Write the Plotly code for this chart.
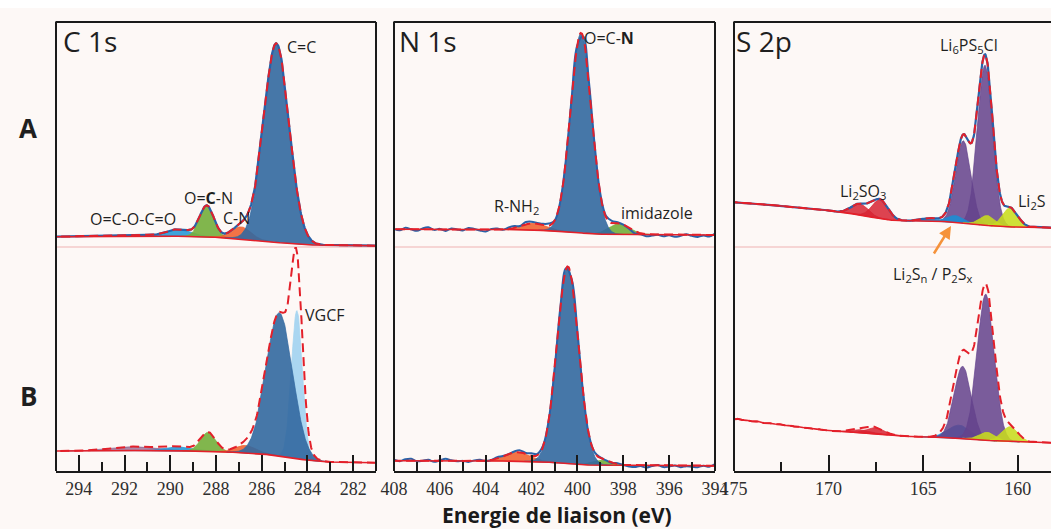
import numpy as np
import plotly.graph_objects as go

W, H = 1051, 529

# ---------------- data ----------------
# Each fitted component: centre (eV), height (a.u.), gaussian sigma (eV)
# C 1s, sample A
C_A_NAMES   = ["satellite", "O=C-O-C=O", "O=C-N", "C-N", "C=C"]
C_A_CENTER  = [291.5, 289.6, 288.4, 286.9, 285.36]
C_A_HEIGHT  = [1.5, 7.0, 31.0, 12.0, 199.0]
C_A_SIGMA   = [1.0, 0.5, 0.31, 0.42, 0.557]
C_A_BG_E    = [295, 292, 290, 289, 288.5, 287.5, 286.8, 286.2, 285.7, 285.3, 284.9, 284.5, 283.7, 282.5, 281]
C_A_BG_I    = [10.3, 10.6, 10.8, 10.6, 10.3, 9.2, 8.0, 6.8, 5.6, 4.5, 3.6, 2.9, 2.0, 1.5, 1.3]

# C 1s, sample B
C_B_NAMES   = ["satellite", "O=C-O-C=O", "O=C-N", "C-N", "VGCF", "C=C"]
C_B_CENTER  = [291.5, 289.6, 288.34, 286.7, 284.46, 285.23]
C_B_HEIGHT  = [4.0, 4.0, 19.0, 7.5, 148.0, 143.0]
C_B_SIGMA   = [1.0, 0.55, 0.33, 0.45, 0.24, 0.58]
C_B_BG_E    = [295, 291, 289, 288, 287, 286, 285.5, 285, 284.5, 284, 283.5, 283, 282, 281]
C_B_BG_I    = [20.0, 20.5, 20.0, 19.5, 18.5, 17.0, 16.0, 14.5, 12.5, 10.8, 9.6, 9.0, 8.5, 8.3]

# N 1s, sample A
N_A_NAMES   = ["R-NH2", "imidazole", "O=C-N"]
N_A_CENTER  = [401.88, 398.16, 399.84]
N_A_HEIGHT  = [7.0, 11.0, 200.0]
N_A_SIGMA   = [0.5, 0.45, 0.46]
N_A_BG_E    = [408, 403, 402, 401, 400.3, 399.8, 399.3, 398.5, 394]
N_A_BG_I    = [17.7, 17.5, 17.0, 16.3, 15.0, 14.0, 13.0, 12.5, 12.0]
N_A_NOISE   = [0.5, -1.0, 1.5, 0.0, -1.5, 1.0, 2.0, -0.5, 0.5, -1.5, 1.0, 0.0, -1.0, 1.5,
               0.5, -1.0, -2.0, 0.5, 1.0, -0.5, 1.5, 2.0, 0.5, 2.5, 1.5, 0.5, 1.0, 2.0,
               0.0, 0.5, 1.0, 0.0, -0.5, 0.5, 0.0, 1.0, 0.5, 1.5, 2.5, 1.0, -0.5, -1.5,
               -2.5, -1.0, -2.0, -1.0, 0.0, -1.5, -0.5, -2.0, -1.0, 0.5, -1.0, -2.0, -0.5,
               -1.5, 1.5]

# N 1s, sample B
N_B_NAMES   = ["R-NH2", "imidazole", "O=C-N"]
N_B_CENTER  = [402.6, 398.9, 400.42]
N_B_HEIGHT  = [9.0, 5.0, 197.0]
N_B_SIGMA   = [0.55, 0.4, 0.47]
N_B_BG_E    = [408, 403, 402, 401, 400.4, 399.5, 398.5, 394]
N_B_BG_I    = [10.3, 10.0, 9.5, 8.5, 7.5, 6.0, 5.5, 5.3]
N_B_NOISE   = [1.0, -0.5, 1.5, 2.0, -0.5, 0.0, 1.0, -1.0, 0.5, 2.0, 0.5, -0.5, 0.0, -1.0,
               0.5, 1.0, -0.5, 0.0, 1.5, 0.5, 0.0, 1.0, 2.0, 1.0, 2.5, 1.5, 1.0, 0.5,
               0.0, 0.5, 1.0, 0.0, 0.5, 0.0, -0.5, 0.5, 1.0, 0.0, -0.5, 1.0, 0.0, -1.0,
               -1.5, -0.5, -2.0, -0.5, 0.5, -1.5, -1.0, 0.0, -1.5, -0.5, -1.0, -1.5, 0.0,
               -1.0, 1.5]

# S 2p, sample A
S_A_NAMES   = ["Li2SO3 a", "Li2SO3 b", "Li6PS5Cl a", "Li6PS5Cl b", "Li2Sn a", "Li2Sn b", "Li2S a", "Li2S b"]
S_A_CENTER  = [168.34, 167.28, 162.87, 161.73, 164.6, 163.31, 161.6, 160.4]
S_A_HEIGHT  = [11.0, 19.0, 82.0, 160.0, 3.0, 6.5, 10.0, 19.0]
S_A_SIGMA   = [0.45, 0.42, 0.40, 0.40, 0.45, 0.42, 0.40, 0.40]
S_A_BG_E    = [175, 174.5, 174, 173.5, 173, 172.5, 172, 171.5, 171, 170.5, 170, 169.5, 169,
               168.5, 168, 167.5, 167, 166.5, 166, 165, 164, 163.5, 163, 162.5, 162, 161.5,
               161, 160.5, 160, 159, 158.2]
S_A_BG_I    = [44.7, 44.0, 43.6, 42.6, 41.9, 41.0, 40.3, 39.2, 38.5, 37.4, 36.6, 35.0, 34.0,
               32.5, 31.0, 29.0, 27.5, 26.5, 26.2, 26.0, 25.6, 25.2, 24.5, 23.3, 22.2, 21.3,
               20.6, 20.2, 19.9, 19.5, 19.3]

# S 2p, sample B
S_B_NAMES   = ["Li2SO3 a", "Li2SO3 b", "Li2Sn", "Li6PS5Cl a", "Li6PS5Cl b", "Li2S a", "Li2S b"]
S_B_CENTER  = [168.3, 167.5, 163.1, 162.91, 161.69, 161.6, 160.4]
S_B_HEIGHT  = [3.0, 6.0, 13.0, 72.0, 146.0, 8.0, 15.0]
S_B_SIGMA   = [0.5, 0.45, 0.6, 0.45, 0.45, 0.42, 0.42]
S_B_BG_E    = [175, 174.75, 174.5, 174.25, 174, 173.75, 173.5, 173.25, 173, 172.75, 172.5,
               172.25, 172, 171.75, 171.5, 171.25, 171, 170.75, 170.5, 170.25, 170, 169.5,
               169, 168.5, 168, 167.5, 167, 166.5, 166, 165, 164, 163, 162, 161, 160, 159, 158.2]
S_B_BG_I    = [51.7, 52.3, 50.5, 50.8, 49.3, 49.8, 48.2, 47.6, 47.9, 46.4, 46.8, 45.2, 45.5,
               44.1, 44.4, 42.9, 43.1, 41.8, 41.9, 40.6, 40.3, 39.5, 39.0, 38.5, 38.0, 37.2,
               36.3, 35.4, 34.7, 34.0, 33.5, 32.8, 31.2, 29.8, 29.0, 28.5, 28.3]

# axis tick settings per column
X_RANGES = [[295, 281], [408.001, 393.999], [175.001, 158.24]]
X_DTICK = [2, 2, 5]
X_MINOR = [1, 1, 2.5]

# ---------------- styling ----------------
PAL = {
    "sat": "rgba(105,45,105,0.55)",
    "ltblue": "rgba(35,150,215,0.88)",
    "green": "rgba(118,176,62,0.92)",
    "orange": "rgba(240,96,45,0.88)",
    "blue": "rgba(50,104,160,0.9)",
    "vgcf": "rgba(165,212,240,0.95)",
    "red": "rgba(215,35,50,0.85)",
    "snblue": "rgba(30,140,210,0.92)",
    "purple": "rgba(100,66,140,0.86)",
    "yellow": "rgba(200,220,30,0.88)",
}
C_A_STYLE = ["sat", "ltblue", "green", "orange", "blue"]
C_B_STYLE = ["sat", "ltblue", "green", "orange", "vgcf", "blue"]
N_STYLE = ["orange", "green", "blue"]
S_A_STYLE = ["red", "red", "purple", "purple", "snblue", "snblue", "yellow", "yellow"]
S_B_STYLE = ["red", "red", "snblue", "purple", "purple", "yellow", "yellow"]

RED = "#e3202a"
BLUE = "#2a62a8"

# pixel positions of the panels
PANEL_X = [(56, 376), (394, 715), (734, 1051)]
TOP, MID, BOT = 22, 247, 471


def gauss(E, c, h, s):
    return h * np.exp(-((E - c) ** 2) / (2 * s * s))


fig = go.Figure()


def add_panel(col, row, styles, centers, heights, sigmas, bg_E, bg_I, noise=None,
              show_exp=True):
    xa = "x" if col == 0 else f"x{col + 1}"
    yi = 2 * col + (1 if row == "A" else 2)
    ya = "y" if yi == 1 else f"y{yi}"
    lo, hi = sorted(X_RANGES[col])
    E = np.arange(lo, hi + 0.001, 0.02)
    bgE = np.array(bg_E[::-1], float)
    bgI = np.array(bg_I[::-1], float)
    bg = np.interp(E, bgE, bgI)
    total = np.zeros_like(E)
    for st, c, h, s in zip(styles, centers, heights, sigmas):
        comp = gauss(E, c, h, s)
        total += comp
        m = comp > 0.05
        xs = np.concatenate([E[m], E[m][::-1]])
        ys = np.concatenate([bg[m] + comp[m], bg[m][::-1]])
        fc = PAL[st]
        fig.add_trace(go.Scatter(x=xs, y=ys, xaxis=xa, yaxis=ya, mode="lines",
                                 fill="toself", fillcolor=fc,
                                 line=dict(color=fc, width=0.8),
                                 hoverinfo="skip", showlegend=False))
    env = bg + total
    if show_exp:
        if noise is not None:
            Ex = np.linspace(hi, lo, len(noise))
            bx = np.interp(Ex, bgE, bgI)
            tot = np.zeros_like(Ex)
            for c, h, s in zip(centers, heights, sigmas):
                tot += gauss(Ex, c, h, s)
            yexp = bx + tot + np.array(noise)
            fig.add_trace(go.Scatter(x=Ex, y=yexp, xaxis=xa, yaxis=ya, mode="lines",
                                     line=dict(color=BLUE, width=2, shape="spline"),
                                     hoverinfo="skip", showlegend=False))
        else:
            fig.add_trace(go.Scatter(x=E, y=env, xaxis=xa, yaxis=ya, mode="lines",
                                     line=dict(color=BLUE, width=2.2),
                                     hoverinfo="skip", showlegend=False))
    fig.add_trace(go.Scatter(x=E, y=bg, xaxis=xa, yaxis=ya, mode="lines",
                             line=dict(color=RED, width=1.6),
                             hoverinfo="skip", showlegend=False))
    fig.add_trace(go.Scatter(x=E, y=env, xaxis=xa, yaxis=ya, mode="lines",
                             line=dict(color=RED, width=2, dash="9px,5px"),
                             hoverinfo="skip", showlegend=False))


add_panel(0, "A", C_A_STYLE, C_A_CENTER, C_A_HEIGHT, C_A_SIGMA, C_A_BG_E, C_A_BG_I)
add_panel(0, "B", C_B_STYLE, C_B_CENTER, C_B_HEIGHT, C_B_SIGMA, C_B_BG_E, C_B_BG_I, show_exp=False)
add_panel(1, "A", N_STYLE, N_A_CENTER, N_A_HEIGHT, N_A_SIGMA, N_A_BG_E, N_A_BG_I, noise=N_A_NOISE)
add_panel(1, "B", N_STYLE, N_B_CENTER, N_B_HEIGHT, N_B_SIGMA, N_B_BG_E, N_B_BG_I, noise=N_B_NOISE)
add_panel(2, "A", S_A_STYLE, S_A_CENTER, S_A_HEIGHT, S_A_SIGMA, S_A_BG_E, S_A_BG_I)
add_panel(2, "B", S_B_STYLE, S_B_CENTER, S_B_HEIGHT, S_B_SIGMA, S_B_BG_E, S_B_BG_I, show_exp=False)


def py(y):
    return 1 - y / H


def px(x):
    return x / W


layout = dict(
    width=W, height=H, margin=dict(l=0, r=0, t=0, b=0, pad=0, autoexpand=False),
    paper_bgcolor="#fdf8f6", plot_bgcolor="rgba(0,0,0,0)",
    showlegend=False,
)
AX = "#1a1a1a"
for i in range(3):
    x0, x1 = PANEL_X[i]
    key = "xaxis" if i == 0 else f"xaxis{i + 1}"
    layout[key] = dict(
        domain=[px(x0), min(px(x1), 1.0)], range=X_RANGES[i], anchor=f"y{2 * i + 2}",
        showline=True, linecolor=AX, linewidth=2, showgrid=False, zeroline=False,
        automargin=False,
        ticks="inside", ticklen=16, tickwidth=2, tickcolor=AX, tick0=0, dtick=X_DTICK[i],
        minor=dict(ticks="inside", ticklen=9, tickwidth=2, tickcolor=AX, dtick=X_MINOR[i], showgrid=False),
        tickfont=dict(family="Liberation Serif", size=18, color="#2e2e2e"),
        ticklabelstandoff=0,
    )
    for r, dom, rng in (("A", [py(MID), py(TOP)], [0, MID - TOP]), ("B", [py(BOT), py(MID)], [0, BOT - MID])):
        yi = 2 * i + (1 if r == "A" else 2)
        ykey = "yaxis" if yi == 1 else f"yaxis{yi}"
        layout[ykey] = dict(domain=dom, range=rng, visible=False, automargin=False,
                            anchor="x" if i == 0 else f"x{i + 1}")
fig.update_layout(**layout)

shapes = [dict(type="rect", xref="paper", yref="paper", x0=0, x1=1, y0=py(8), y1=1,
               fillcolor="white", line=dict(width=0), layer="below")]
for i, (x0, x1) in enumerate(PANEL_X):
    shapes.append(dict(type="line", xref="paper", yref="paper", x0=px(x0), x1=px(x1),
                       y0=py(MID), y1=py(MID), line=dict(color="rgba(242,196,196,0.9)", width=1.5),
                       layer="below"))
    shapes.append(dict(type="line", xref="paper", yref="paper", x0=px(x0) - 0.0005, x1=px(x1),
                       y0=py(TOP), y1=py(TOP), line=dict(color=AX, width=2)))
    shapes.append(dict(type="line", xref="paper", yref="paper", x0=px(x0), x1=px(x0),
                       y0=py(TOP), y1=py(BOT), line=dict(color=AX, width=2)))
    if i < 2:
        shapes.append(dict(type="line", xref="paper", yref="paper", x0=px(x1), x1=px(x1),
                           y0=py(TOP), y1=py(BOT), line=dict(color=AX, width=2)))
fig.update_layout(shapes=shapes)

SANS = "Open Sans"


def label(text, x, y, size=16, bold=False, anchor="center"):
    fig.add_annotation(text=f"<b>{text}</b>" if bold else text, x=px(x), y=py(y),
                       xref="paper", yref="paper", showarrow=False, xanchor=anchor,
                       yanchor="middle", font=dict(family=SANS, size=size, color="#1f1f1f"))


label("C 1s", 61, 41, size=28, anchor="left")
label("N 1s", 397, 41, size=28, anchor="left")
label("S 2p", 734, 41, size=28, anchor="left")
label("A", 28, 128, size=26, bold=True)
label("B", 28, 396, size=26, bold=True)

label("C=C", 301, 47)
label("O=<b>C</b>-N", 208, 198)
label("C-N", 236, 218)
label("O=C-O-C=O", 133, 219)
label("VGCF", 325, 315)
label("O=C-<b>N</b>", 609, 38)
label("R-NH<sub>2</sub>", 516, 207)
label("imidazole", 657, 213)
label("Li<sub>6</sub>PS<sub>5</sub>Cl", 969, 45)
label("Li<sub>2</sub>SO<sub>3</sub>", 863, 191)
label("Li<sub>2</sub>S", 1032, 201)
label("Li<sub>2</sub>S<sub>n</sub> / P<sub>2</sub>S<sub>x</sub>", 932, 274)

fig.add_annotation(x=px(951), y=py(226), xref="paper", yref="paper", text="",
                   showarrow=True, ax=-18, ay=29, arrowcolor="#f5923a", arrowwidth=2.5,
                   arrowhead=2, arrowsize=1)

fig.add_annotation(text="<b>Energie de liaison (eV)</b>", x=px(557), y=py(515),
                   xref="paper", yref="paper", showarrow=False, xanchor="center",
                   yanchor="middle", font=dict(family=SANS, size=21, color="#1a1a1a"))

fig.write_html("out.html", config={"displayModeBar": False},
               post_script="document.body.style.margin='0';document.body.style.overflow='hidden';")
